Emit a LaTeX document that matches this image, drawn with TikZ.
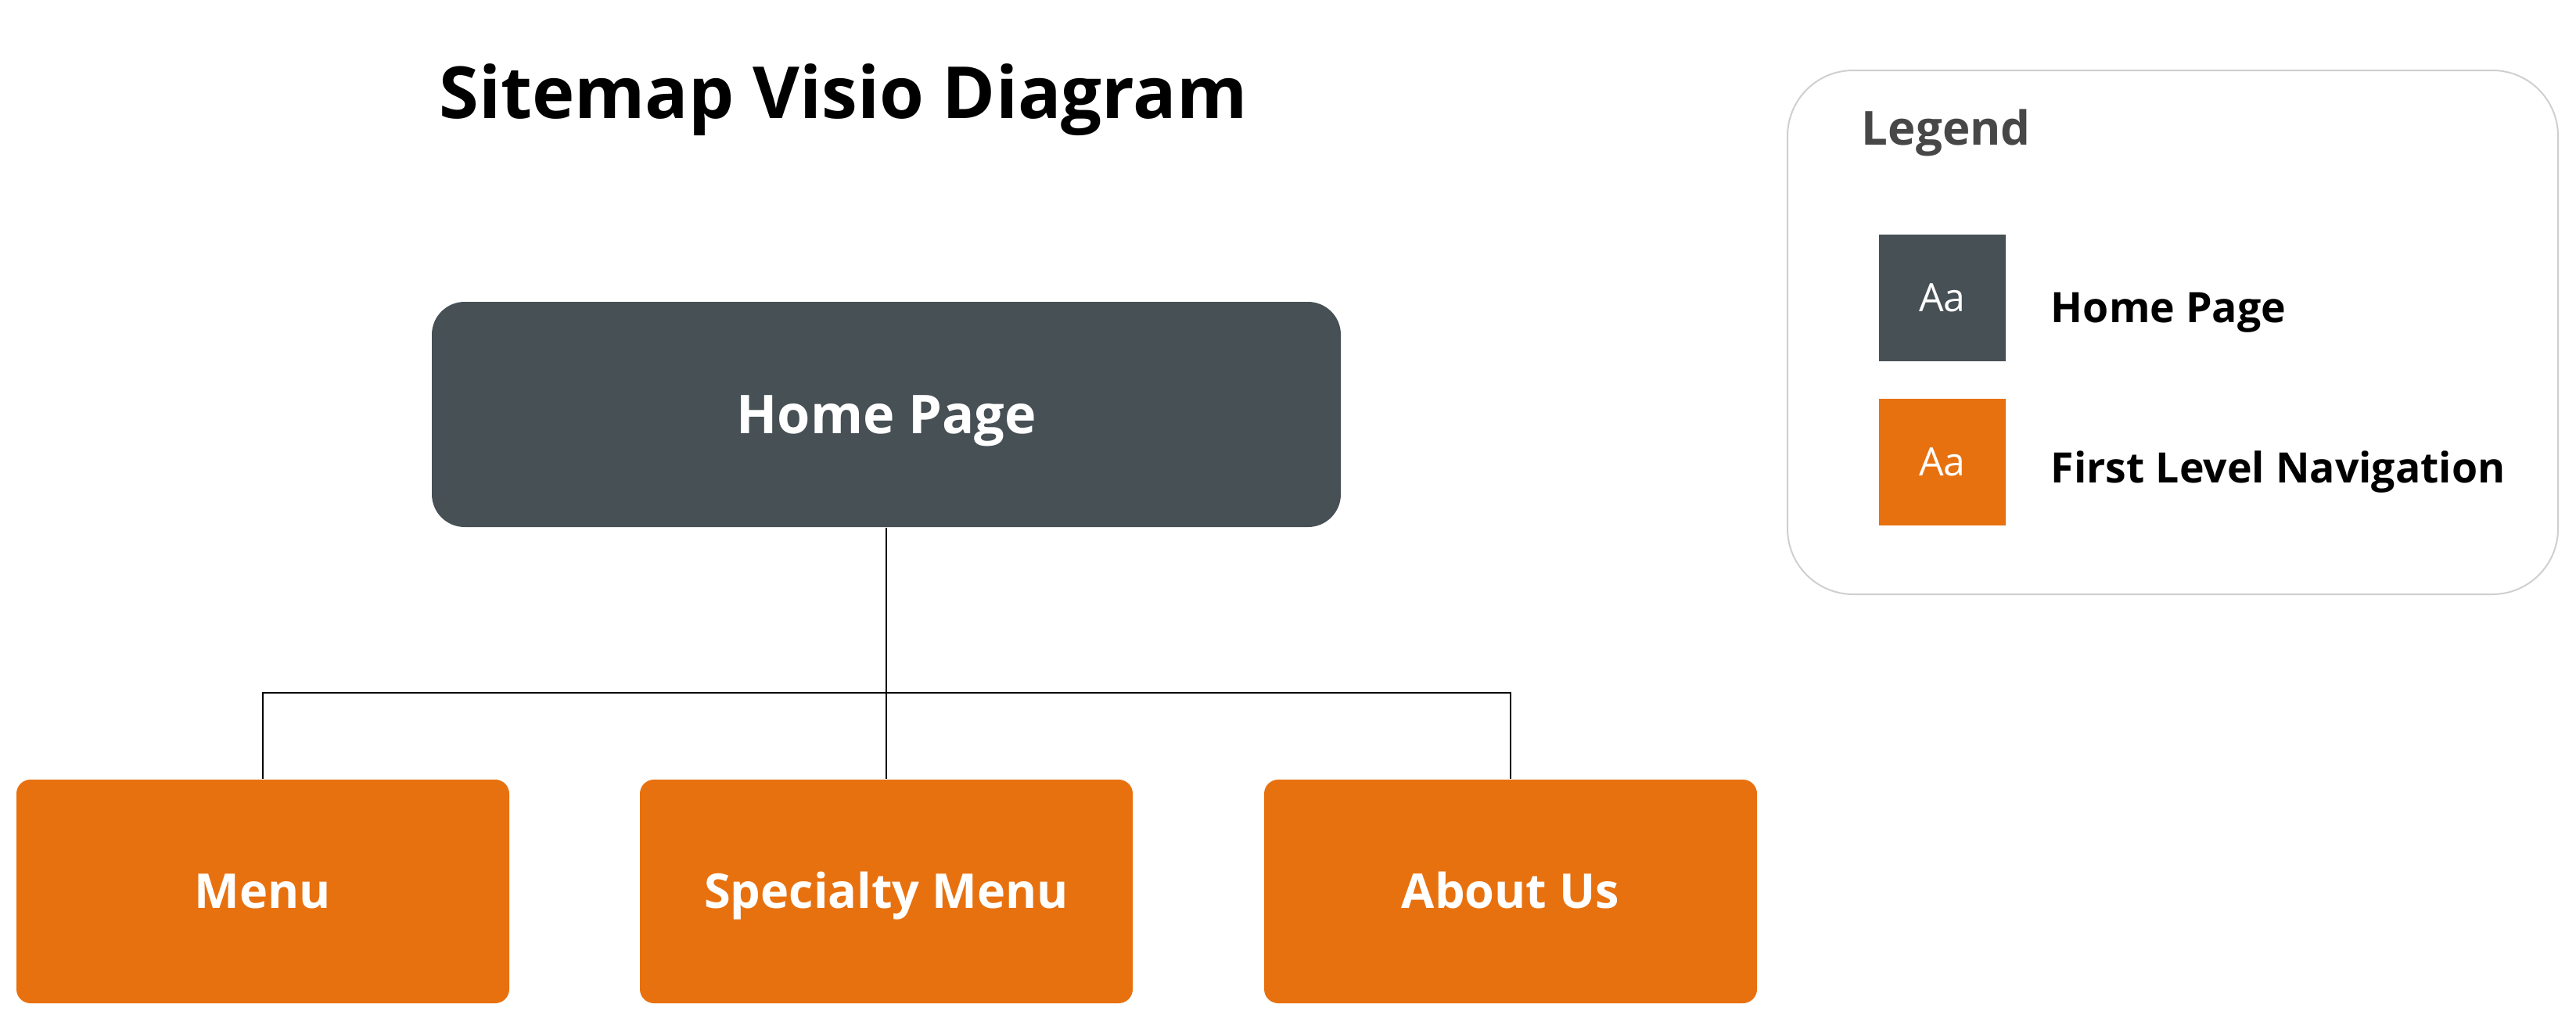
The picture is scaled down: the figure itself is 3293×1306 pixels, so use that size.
\documentclass[tikz,border=0pt]{standalone}
\usepackage{fontspec}
\setmainfont{Open Sans}
\definecolor{slate}{HTML}{465055}
\definecolor{navorange}{HTML}{E8710F}
\definecolor{legendgrey}{HTML}{474747}
\definecolor{frame}{HTML}{CFCFCF}
\begin{document}
\begin{tikzpicture}[x=0.25pt,y=-0.25pt,
  homebox/.style={fill=slate, text=white, rounded corners=10.5pt,
    minimum width=290.5pt, minimum height=72pt, inner sep=0pt,
    text height=12.2pt, text depth=0pt,
    font=\fontsize{17.1}{20}\selectfont\bfseries},
  navbox/.style={fill=navorange, text=white, rounded corners=4.5pt,
    minimum width=157.5pt, minimum height=71.5pt, inner sep=0pt,
    text height=10.9pt, text depth=0pt,
    font=\fontsize{15.3}{19}\selectfont\bfseries},
  swatch/.style={minimum width=40.5pt, minimum height=40.5pt, inner sep=0pt,
    text=white, text height=8.9pt, text depth=0pt,
    font=\fontsize{12.5}{15}\selectfont},
  legendlabel/.style={anchor=base west, inner sep=0pt,
    font=\fontsize{13.4}{16}\selectfont\bfseries},
  link/.style={draw=black, line width=0.7pt}]
\useasboundingbox (0,0) rectangle (3293,1306);

% title
\node[anchor=base, inner sep=0pt, font=\fontsize{23}{28}\selectfont\bfseries]
  (title) at (1078,151) {Sitemap Visio Diagram};

% site structure
\node[homebox] (home) at (1133,530) {Home Page};
\node[navbox] (menu) at (336,1140) {Menu};
\node[navbox] (special) at (1133,1140) {Specialty Menu};
\node[navbox] (about) at (1931,1140) {About Us};
\coordinate (bus) at (1133,886);

\draw[link] (home.south) -- (special.north);
\draw[link] (menu.north) |- (bus) -| (about.north);

% legend
\node[draw=frame, line width=0.5pt, rounded corners=21pt, inner sep=0pt,
  minimum width=246.25pt, minimum height=167.5pt] (legend) at (2777.5,425) {};
\node[anchor=base west, inner sep=0pt, text=legendgrey,
  font=\fontsize{15}{18}\selectfont\bfseries] (legendtitle) at (2379,185) {Legend};
\node[swatch, fill=slate] (swhome) at (2483,381) {Aa};
\node[swatch, fill=navorange] (swnav) at (2483,591) {Aa};
\node[legendlabel] (lbhome) at (2621,412) {Home Page};
\node[legendlabel] (lbnav) at (2621,617) {First Level Navigation};
\end{tikzpicture}
\end{document}
